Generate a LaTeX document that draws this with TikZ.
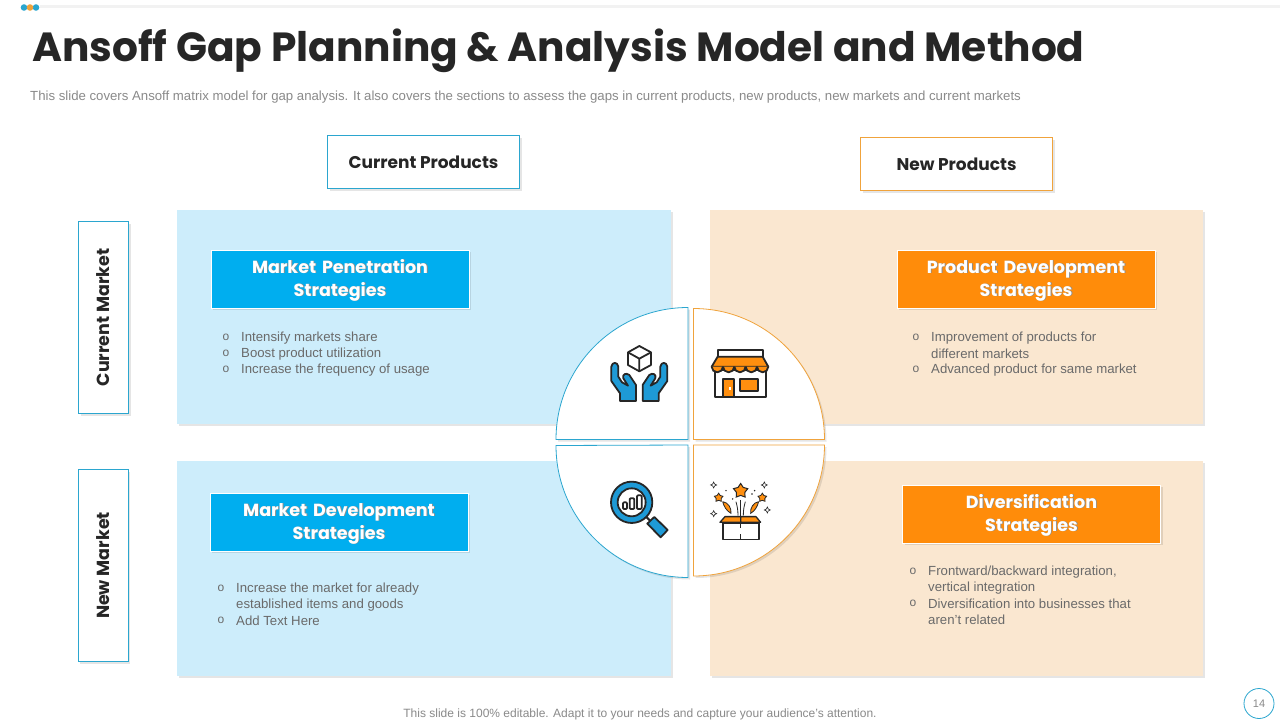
\documentclass[tikz,border=0pt]{standalone}
\usepackage{fontspec}
\setmainfont{Liberation Sans}
\newfontfamily\headfont{Poppins}
\usetikzlibrary{shapes.geometric,shadows}
\definecolor{bluec}{HTML}{00AEEF}
\definecolor{orangec}{HTML}{FF8C0A}
\definecolor{bluepanel}{HTML}{CDEDFB}
\definecolor{orangepanel}{HTML}{FAE7D0}
\definecolor{blueline}{HTML}{2BA6CF}
\definecolor{orangeline}{HTML}{F0A33C}
\definecolor{inkc}{HTML}{262626}
\definecolor{greyc}{HTML}{8A8A8A}
\definecolor{listc}{HTML}{6A6A6A}
\definecolor{iconblue}{HTML}{1E9AD6}
\definecolor{iconorange}{HTML}{FF8F0F}
\newcommand{\shtxt}[1]{\leavevmode\smash{\raisebox{-5.5pt}{\rlap{\kern0.9pt\raisebox{-0.9pt}{\textcolor{black!45}{#1}}}#1}}}
\begin{document}
\begin{tikzpicture}[
    x=1pt, y=-1pt,
    softshadow/.style={general shadow={shadow xshift=2pt, shadow yshift=-2pt, fill=black, opacity=0.1}},
    Bpanel/.style={fill=bluepanel, softshadow},
    Opanel/.style={fill=orangepanel, softshadow},
    Bhead/.style={draw=blueline, fill=white, line width=0.8pt, minimum width=192pt, minimum height=53pt, font=\headfont\fontsize{17}{22}\selectfont\bfseries, text=inkc, softshadow, inner sep=0pt},
    Ohead/.style={Bhead, draw=orangeline},
    Brow/.style={Bhead, minimum width=192pt, minimum height=50pt, rotate=90, font=\headfont\fontsize{17.5}{22}\selectfont\bfseries},
    Btitle/.style={fill=bluec, draw=white, line width=0.8pt, minimum width=258pt, minimum height=58pt, text width=250pt, align=center, font=\headfont\fontsize{17.5}{23}\selectfont\bfseries, text=white, softshadow, inner sep=0pt},
    Otitle/.style={Btitle, fill=orangec},
    Bquad/.style={fill=white, draw=blueline, line width=0.8pt, softshadow},
    Oquad/.style={fill=white, draw=orangeline, line width=0.8pt, softshadow},
    txt/.style={font=\fontsize{13.2}{15}\selectfont, text=listc, anchor=west, inner sep=0pt, yshift=-0.8pt},
    bul/.style={font=\fontsize{12}{14}\selectfont, text=listc, inner sep=0pt, yshift=-0.8pt},
    ic/.style={draw=inkc, line width=1.8pt, line join=round},
    thinl/.style={draw=inkc, line width=0.8pt},
    Bigstar/.style={star, star points=5, star point ratio=1.7, fill=iconorange, draw=inkc, line width=1pt, minimum size=15pt, inner sep=0pt},
    Smallstar/.style={Bigstar, line width=0.8pt, minimum size=9pt},
    Spark/.style={star, star points=4, star point ratio=2.2, fill=white, draw=inkc, line width=0.6pt, minimum size=6pt, inner sep=0pt},
]
\useasboundingbox (0,0) rectangle (1280,720);
\fill[white] (0,0) rectangle (1280,720);
\fill[black!5] (40,5) rectangle (1280,8);
\fill[blueline] (24,7.5) circle (3.3);
\fill[blueline] (36,7.5) circle (3.3);
\fill[orangeline] (30,7.5) circle (3.3);
\node[font=\headfont\fontsize{40.7}{50}\selectfont\bfseries, text=inkc, anchor=west, inner sep=0pt] (titlelbl) at (32,51) {Ansoff Gap Planning \& Analysis Model and Method};
\node[txt, text=greyc] (sublbl) at (30,96) {This slide covers Ansoff matrix model for gap analysis. It also covers the sections to assess the gaps in current products, new products, new markets and current markets};
\node[Bhead] (curprod) at (423.5,162) {Current Products};
\node[Ohead] (newprod) at (956.5,164) {New Products};
\node[Brow] (curmkt) at (103.5,317.5) {Current Market};
\node[Brow] (newmkt) at (103,565.5) {New Market};
\fill[Bpanel] (177,210) rectangle (671,424);
\fill[Opanel] (710,210) rectangle (1203,424);
\fill[Bpanel] (177,461) rectangle (671,676);
\fill[Opanel] (710,461) rectangle (1203,676);
\node[Btitle] (penet) at (340,279) {\shtxt{Market Penetration}\\\shtxt{Strategies}};
\node[Otitle] (proddev) at (1026,279) {\shtxt{Product Development}\\\shtxt{Strategies}};
\node[Btitle] (mktdev) at (339,522) {\shtxt{Market Development}\\\shtxt{Strategies}};
\node[Otitle] (divers) at (1031.5,514) {\shtxt{Diversification}\\\shtxt{Strategies}};
\node[bul] (b1) at (226,337) {o};
\node[txt] (t1) at (241,337) {Intensify markets share};
\node[bul] (b2) at (226,353) {o};
\node[txt] (t2) at (241,353) {Boost product utilization};
\node[bul] (b3) at (226,369) {o};
\node[txt] (t3) at (241,369) {Increase the frequency of usage};
\node[bul] (b4) at (916,337) {o};
\node[txt] (t4) at (931,337) {Improvement of products for};
\node[txt] (t5) at (931,353) {different markets};
\node[bul] (b5) at (916,369) {o};
\node[txt] (t6) at (931,369) {Advanced product for same market};
\node[bul] (b6) at (221,588) {o};
\node[txt] (t7) at (236,588) {Increase the market for already};
\node[txt] (t8) at (236,604) {established items and goods};
\node[bul] (b7) at (221,620) {o};
\node[txt] (t9) at (236,620) {Add Text Here};
\node[bul] (b8) at (913,571) {o};
\node[txt] (t10) at (928,571) {Frontward/backward integration,};
\node[txt] (t11) at (928,587) {vertical integration};
\node[bul] (b9) at (913,603) {o};
\node[txt] (t12) at (928,603) {Diversification into businesses that};
\node[txt] (t13) at (928,619) {aren't related};
\path[Bquad] (688,439.5) -- (556,439.5) arc[start angle=180, end angle=270, radius=132] -- cycle;
\path[Oquad] (693.5,439.5) -- (693.5,308.5) arc[start angle=270, end angle=360, radius=131] -- cycle;
\path[Bquad] (688,445) -- (688,577.5) arc[start angle=90, end angle=180, radius=132] -- cycle;
\path[Oquad] (693.5,445) -- (824.5,445) arc[start angle=0, end angle=90, radius=131] -- cycle;
\begin{scope}[shift={(540,295)}, x=0.3333pt, y=-0.3333pt]
\path[ic] (298,153) -- (333,172) -- (333,210) -- (298,229) -- (264,210) -- (264,172) -- cycle;
\path[ic] (264,172) -- (298,191) -- (333,172) (298,191) -- (298,229);
\path[ic, fill=iconblue] (240,318) -- (288,318) -- (288,270) -- (268,240) .. controls (258,232) and (246,238) .. (250,250) -- (264,272) -- (246,262) -- (235,245) -- (235,215) .. controls (233,200) and (216,200) .. (214,215) -- (214,258) -- (240,295) -- cycle;
\path[ic, fill=iconblue] (356,318) -- (308,318) -- (308,270) -- (328,240) .. controls (338,232) and (350,238) .. (346,250) -- (332,272) -- (350,262) -- (361,245) -- (361,215) .. controls (363,200) and (380,200) .. (382,215) -- (382,258) -- (356,295) -- cycle;
\path[ic, fill=white] (525,225) rectangle (677,305);
\path[ic, fill=white] (533,165) rectangle (668,185);
\path[ic, fill=iconorange] (533,185) -- (668,185) -- (685,215) -- (515,215) -- cycle;
\path[ic, fill=iconorange] (515,215) arc[start angle=180, end angle=0, radius=17];
\path[ic, fill=iconorange] (549,215) arc[start angle=180, end angle=0, radius=17];
\path[ic, fill=iconorange] (583,215) arc[start angle=180, end angle=0, radius=17];
\path[ic, fill=iconorange] (617,215) arc[start angle=180, end angle=0, radius=17];
\path[ic, fill=iconorange] (651,215) arc[start angle=180, end angle=0, radius=17];
\path[ic, fill=iconorange] (548,252) rectangle (582,305);
\path[ic, fill=iconorange] (600,253) rectangle (655,287);
\fill[white] (568,275) rectangle (573,285);
\path[ic, line width=2pt] (318,665) -- (335,682);
\path[ic, fill=iconblue] (322,686) -- (343,666) -- (383,705) -- (362,727) -- cycle;
\path[ic, fill=iconblue] (275,622) circle[radius=62];
\path[ic, fill=white] (275,622) circle[radius=42];
\path[ic, rounded corners=1pt, fill=white] (249,622) rectangle (261,642);
\path[ic, rounded corners=1pt, fill=white] (269,610) rectangle (283,642);
\path[ic, rounded corners=1pt, fill=white] (291,601) rectangle (305,642);
\path[ic, line width=1.3pt, fill=white] (549,684) rectangle (657,733);
\path[ic, line width=1.3pt, fill=iconorange] (540,682) -- (555,665) -- (602,665) -- (602,682) -- cycle;
\path[ic, line width=1.3pt, fill=iconorange] (662,682) -- (648,665) -- (602,665) -- (602,682) -- cycle;
\path[ic, line width=1.3pt] (602,682) -- (602,700) (602,718) -- (602,733);
\node[Bigstar] (bigstar) at (602,588) {};
\node[Smallstar] (lstar) at (536,608) {};
\node[Smallstar] (rstar) at (667,608) {};
\node[Spark] (sp1) at (521,570) {};
\node[Spark] (sp2) at (673,570) {};
\node[Spark] (sp3) at (521,656) {};
\node[Spark] (sp4) at (682,645) {};
\path[thinl, fill=iconorange] (548,620) .. controls (565,622) and (575,640) .. (573,655) .. controls (560,648) and (552,635) .. (548,620);
\path[thinl, fill=iconorange] (656,620) .. controls (640,622) and (630,640) .. (632,655) .. controls (645,648) and (652,635) .. (656,620);
\path[thinl] (588,620) .. controls (592,635) and (594,645) .. (594,662);
\path[thinl] (602,615) -- (602,662);
\path[thinl] (616,620) .. controls (612,635) and (610,645) .. (610,662);
\fill[inkc] (558,587) circle (2.5);
\fill[inkc] (644,587) circle (2.5);
\fill[inkc] (578,612) circle (2.5);
\fill[inkc] (636,597) circle (2.5);
\end{scope}
\node[circle, draw=blueline, line width=0.8pt, minimum size=30pt, inner sep=0pt, font=\fontsize{11}{13}\selectfont, text=greyc] (pagenum) at (1259,703.5) {14};
\node[font=\fontsize{12}{14}\selectfont, text=greyc, inner sep=0pt] (footlbl) at (640,714) {This slide is 100\% editable. Adapt it to your needs and capture your audience's attention.};
\end{tikzpicture}
\end{document}
